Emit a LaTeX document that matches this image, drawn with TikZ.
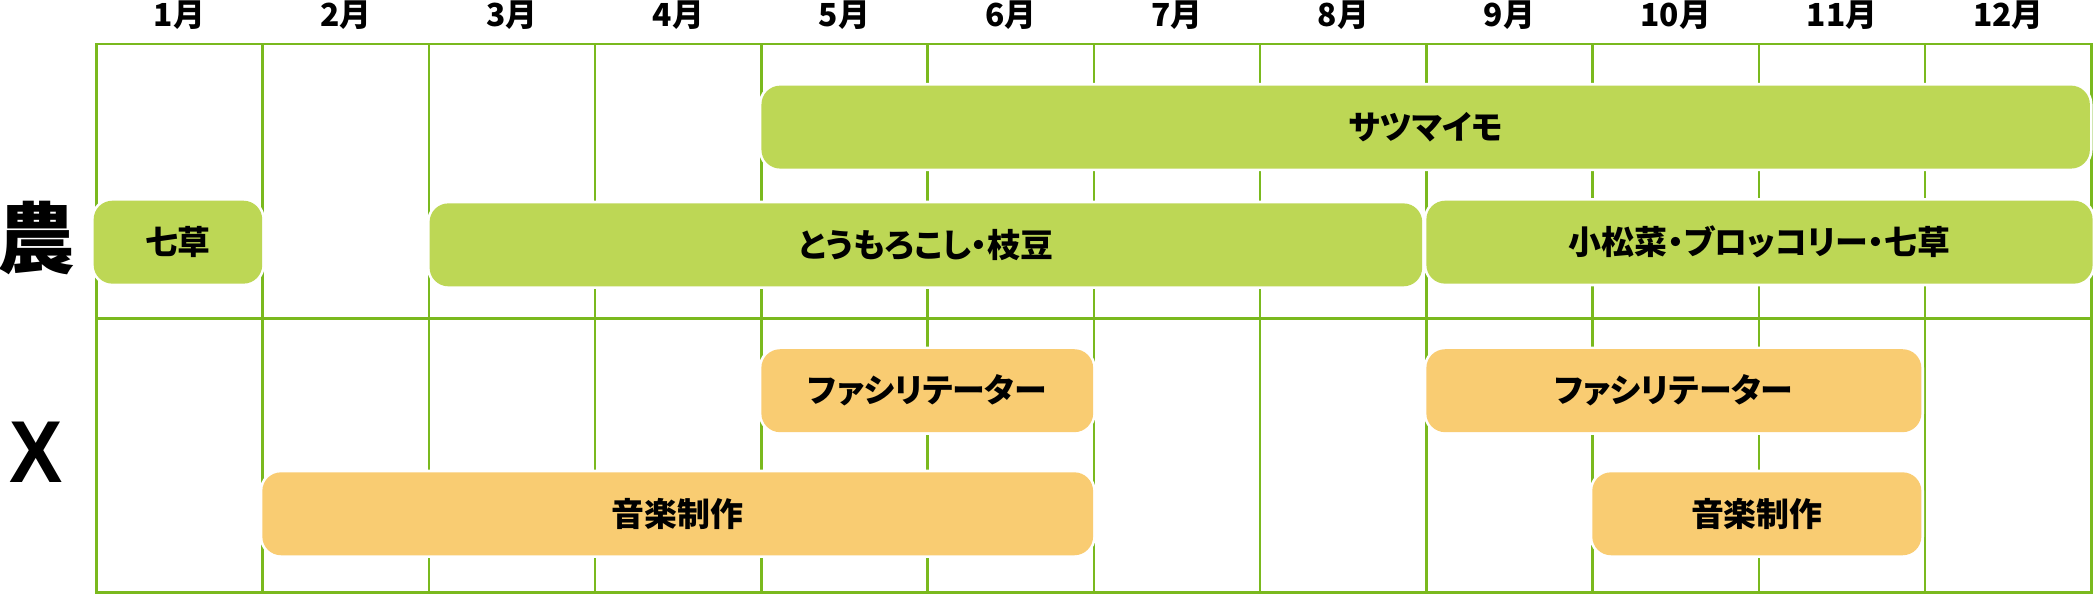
\documentclass[tikz,border=0pt]{standalone}
\usepackage{fontspec}
\setmainfont{Liberation Sans}
\newfontfamily\jp{Noto Sans CJK JP}[RawFeature=+palt]
\definecolor{gridgreen}{RGB}{122,185,30}
\definecolor{bargreen}{RGB}{189,215,85}
\definecolor{barorange}{RGB}{249,204,114}
\tikzset{
  gridline/.style={draw=gridgreen, line width=1.1pt},
  month/.style={font=\jp\bfseries\fontsize{13.5}{14}\selectfont, inner sep=0pt},
  rowlabel/.style={inner sep=0pt},
  barbase/.style={rounded corners=0.28cm, inner sep=0pt, minimum height=1.24cm,
    preaction={draw=white, line width=0.08cm},
    font=\jp\bfseries\fontsize{14}{14}\selectfont},
  gbar/.style={barbase, fill=bargreen},
  obar/.style={barbase, fill=barorange}
}
\begin{document}
\begin{tikzpicture}[x=0.02cm, y=-0.02cm]
\useasboundingbox (0,0) rectangle (1568,445);
% grid
\draw[gridline] (72,33) rectangle (1563,443);
\draw[gridline] (72,238) -- (1563,238);
\foreach \i in {1,...,11} \draw[gridline] ({72+124.25*\i},33) -- ({72+124.25*\i},443);
% month labels
\foreach \i in {1,...,12} \node[month] (m\i) at ({72+124.25*(\i-0.5)},11) {\i 月};
% row labels
\node[rowlabel, font=\jp\bfseries\fontsize{33}{33}\selectfont] (nou) at (27,178) {農};
\node[rowlabel, font=\bfseries\fontsize{34}{34}\selectfont, yscale=1.1] (x) at (27,338) {X};
% green bars
\node[gbar, minimum width=19.86cm] (satsuma) at (1065.5,95) {サツマイモ};
\node[gbar, minimum width=2.52cm] (nanakusa) at (133,181) {七草};
\node[gbar, minimum width=14.84cm] (corn) at (692,183) {とうもろこし・枝豆};
\node[gbar, minimum width=9.96cm] (komatsuna) at (1315,181) {小松菜・ブロッコリー・七草};
% orange bars
\node[obar, minimum width=4.96cm] (faci1) at (693,292) {ファシリテーター};
\node[obar, minimum width=7.4cm] (faci2) at (1251,292) {ファシリテーター};
\node[obar, minimum width=12.42cm] (music1) at (506.5,384) {音楽制作};
\node[obar, minimum width=4.92cm] (music2) at (1313,384) {音楽制作};
\end{tikzpicture}
\end{document}
